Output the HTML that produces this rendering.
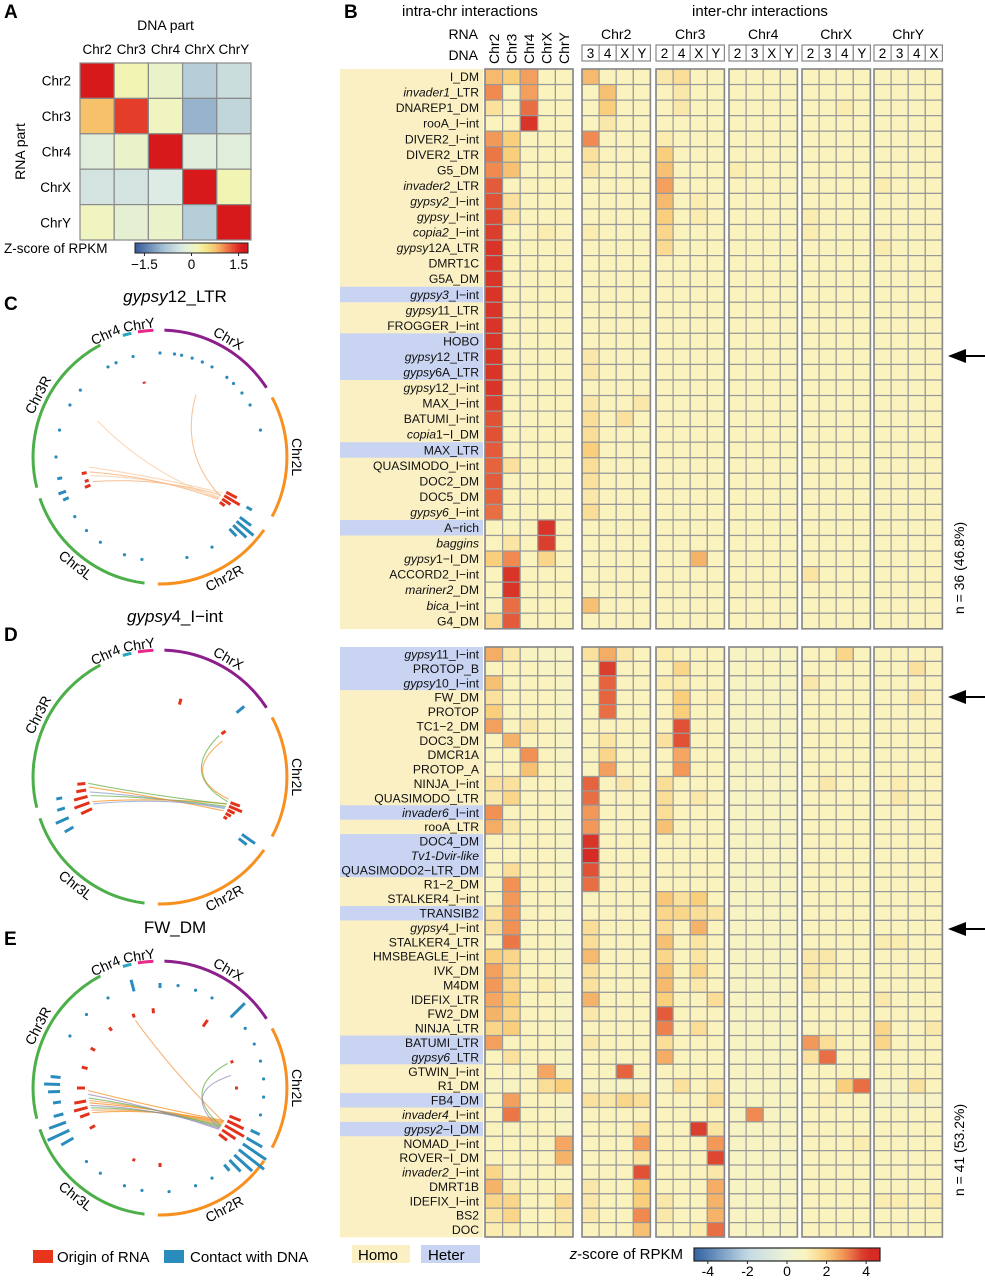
<!DOCTYPE html>
<html><head><meta charset="utf-8">
<style>
html,body{margin:0;padding:0;background:#fff;}
svg{display:block;font-family:"Liberation Sans",Arial,sans-serif;}
</style></head>
<body>
<svg id="fig" width="985" height="1280" viewBox="0 0 985 1280" xmlns="http://www.w3.org/2000/svg"></svg>
<script>
// ---------- Panel A data ----------
const aLabels = ["Chr2","Chr3","Chr4","ChrX","ChrY"];
const aValues = [
 [1.6,0.2,0.0,-0.7,-0.5],
 [0.8,1.4,0.1,-1.0,-0.6],
 [-0.2,0.0,1.6,-0.2,-0.2],
 [-0.4,-0.4,-0.3,1.6,0.2],
 [0.1,-0.1,0.0,-0.7,1.6]
];
const aTicks = [-1.5,0,1.5];
// ---------- Panel B data ----------
const intraCols = ["Chr2","Chr3","Chr4","ChrX","ChrY"];
const interGroups = ["Chr2","Chr3","Chr4","ChrX","ChrY"];
const interCols = [["3","4","X","Y"],["2","4","X","Y"],["2","3","X","Y"],["2","3","4","Y"],["2","3","4","X"]];
const bTicks = [-4,-2,0,2,4];
const topLabels = ["I_DM","*invader1*_LTR","DNAREP1_DM","rooA_I\u2212int","DIVER2_I\u2212int","DIVER2_LTR","G5_DM","*invader2*_LTR","*gypsy2*_I\u2212int","*gypsy*_I\u2212int","*copia2*_I\u2212int","*gypsy*12A_LTR","DMRT1C","G5A_DM","*gypsy3*_I\u2212int","*gypsy*11_LTR","FROGGER_I\u2212int","HOBO","*gypsy*12_LTR","*gypsy*6A_LTR","*gypsy*12_I\u2212int","MAX_I\u2212int","BATUMI_I\u2212int","*copia*1\u2212I_DM","MAX_LTR","QUASIMODO_I\u2212int","DOC2_DM","DOC5_DM","*gypsy6*_I\u2212int","A\u2212rich","*baggins*","*gypsy*1\u2212I_DM","ACCORD2_I\u2212int","*mariner2*_DM","*bica*_I\u2212int","G4_DM"];
const topHeter = [0,0,0,0,0,0,0,0,0,0,0,0,0,0,1,0,0,1,1,1,0,0,0,0,1,0,0,0,0,1,0,0,0,0,0,0];
const topValues = [
[2.3,2,2.7,1,1, 2.3,1,1,1, 1.3,1.6,1,1, 1,1,1,1, 1,1,1,1, 1,1,1,1],
[3,1,2.7,1,1, 1,2.2,1,1, 1,1.3,1,1, 1,1,1,1, 1,1,1,1, 1,1,1,1],
[1.5,1,3.3,1,1, 1,2,1,1, 1,1.3,1,1, 1,1,1,1, 1,1,1.2,1, 1,1,1,1],
[1,1,3.9,1,1, 1,1.3,1,1, 1,1,1,1, 1,1,1,1, 1,1,1,1, 1,1,1,1],
[2.8,2,1,1,1, 3,1,1,1, 1.2,1,1,1, 1,1,1,1, 1,1,1,1, 1,1,1,1],
[3.2,2,1,1,1, 1.5,1,1,1, 2,1,1,1, 1,1,1,1, 1,1,1,1, 1,1,1,1],
[3,2.2,1,1,1, 1.3,1,1,1, 2.2,1,1,1, 1.2,1,1,1, 1,1,1,1, 1,1,1,1],
[3.5,1,1,1,1, 1,1,1,1, 2.7,1,1,1, 1,1,1,1, 1,1,1,1, 1.2,1,1,1],
[3.6,1.5,1,1,1, 1,1,1,1, 2.3,1,1.2,1, 1,1,1,1, 1,1,1,1, 1,1,1,1],
[3.7,1.4,1,1,1, 1,1,1,1, 2,1,1.2,1, 1,1,1,1, 1.2,1,1,1, 1,1,1,1],
[3.8,1,1,1.2,1, 1.2,1,1,1, 1.8,1,1,1, 1,1,1,1, 1.2,1,1,1, 1,1,1,1],
[3.9,1,1,1,1, 1,1,1,1, 1.7,1,1,1, 1,1,1,1, 1,1,1,1, 1.2,1,1,1],
[3.9,1,1,1,1, 1,1,1,1, 1,1,1,1, 1,1,1,1, 1,1,1,1, 1,1,1,1],
[3.9,1,1,1,1, 1,1,1,1, 1,1,1,1, 1,1,1,1, 1,1,1,1, 1,1,1,1],
[3.9,1,1,1,1, 1,1,1,1, 1,1,1,1, 1,1,1,1, 1,1,1,1, 1,1,1,1],
[3.9,1,1,1,1, 1,1,1,1, 1,1,1,1, 1,1,1,1, 1,1,1,1, 1,1,1,1],
[3.9,1,1,1,1, 1,1,1,1, 1,1,1,1, 1,1,1,1, 1,1,1,1, 1,1,1,1],
[3.9,1,1,1,1, 1,1,1,1, 1,1,1,1, 1,1,1,1, 1,1,1,1, 1,1,1,1],
[3.9,1,1,1,1, 1.3,1,1,1, 1,1,1,1, 1,1,1,1, 1,1,1,1, 1,1,1,1],
[3.9,1,1,1,1, 1.3,1,1,1, 1,1,1,1, 1,1,1,1, 1,1,1,1, 1,1,1,1],
[3.9,1,1,1,1, 1,1,1,1, 1,1,1,1, 1,1,1,1, 1,1,1,1, 1,1,1,1],
[3.8,1,1,1,1, 1.3,1,1,1.3, 1,1,1,1, 1,1,1,1, 1,1,1,1, 1,1,1,1],
[3.6,1,1,1,1, 1.6,1,1.5,1, 1,1,1,1, 1,1,1,1, 1,1,1,1, 1,1,1,1],
[3.6,1,1,1,1, 1.6,1,1,1, 1,1,1,1, 1,1,1,1, 1,1,1,1, 1,1,1,1],
[3.5,1,1,1,1, 2,1,1,1, 1,1,1,1, 1,1,1,1, 1,1,1,1, 1,1,1,1],
[3.4,1.5,1,1,1, 1.6,1,1,1, 1,1,1,1, 1,1,1,1, 1,1,1,1, 1,1,1,1],
[3.5,1,1,1,1, 1.5,1,1,1, 1,1,1,1, 1,1,1,1, 1,1,1,1, 1,1,1,1],
[3.4,1,1,1,1, 1.3,1,1,1, 1,1,1,1, 1,1,1,1, 1,1,1,1, 1,1,1,1],
[3.3,1,1,1,1, 1.6,1,1,1, 1,1,1,1, 1,1,1,1, 1,1,1,1, 1,1,1,1],
[1,1,1,3.9,1, 1,1,1,1, 1,1,1,1, 1,1,1,1, 1,1,1,1, 1,1,1,1],
[1,1.4,1,3.8,1, 1,1,1,1, 1,1,1,1, 1,1,1,1, 1,1,1,1, 1,1,1,1],
[2,3,1,1.8,1, 1,1,1,1, 1,1,2.4,1, 1,1,1,1, 1,1,1,1, 1,1,1,1],
[1,3.9,1,1,1, 1,1,1,1, 1,1,1,1, 1,1,1,1, 1.4,1,1,1, 1,1,1,1],
[1,3.9,1,1,1, 1,1,1,1, 1,1,1,1, 1,1,1,1, 1,1,1,1, 1,1,1,1],
[1,3.3,1,1,1, 2.2,1,1,1, 1,1,1,1, 1,1,1,1, 1,1,1,1, 1,1,1,1],
[1.7,3.5,1,1,1, 1,1,1,1, 1,1,1,1, 1,1,1,1, 1,1,1,1, 1,1,1,1]
];
const botLabels = ["*gypsy*11_I\u2212int","PROTOP_B","*gypsy*10_I\u2212int","FW_DM","PROTOP","TC1\u22122_DM","DOC3_DM","DMCR1A","PROTOP_A","NINJA_I\u2212int","QUASIMODO_LTR","*invader6*_I\u2212int","rooA_LTR","DOC4_DM","*Tv1-Dvir-like*","QUASIMODO2\u2212LTR_DM","R1\u22122_DM","STALKER4_I\u2212int","TRANSIB2","*gypsy*4_I\u2212int","STALKER4_LTR","HMSBEAGLE_I\u2212int","IVK_DM","M4DM","IDEFIX_LTR","FW2_DM","NINJA_LTR","BATUMI_LTR","*gypsy6*_LTR","GTWIN_I\u2212int","R1_DM","FB4_DM","*invader4*_I\u2212int","*gypsy2*\u2212I_DM","NOMAD_I\u2212int","ROVER\u2212I_DM","*invader2*_I\u2212int","DMRT1B","IDEFIX_I\u2212int","BS2","DOC"];
const botHeter = [1,1,1,0,0,0,0,0,0,0,0,1,0,1,1,1,0,0,1,0,0,0,0,0,0,0,0,1,1,0,0,1,0,1,0,0,0,0,0,0,0];
const botValues = [
[2.5,1.3,0.8,0.8,0.8, 1.5,2.5,1.3,1, 1.2,1,1,1, 0.8,0.8,0.8,0.8, 1,1,1.8,1, 1,1,1,0.9],
[1,1,1,0.8,0.8, 1,3.8,1,1, 1,1.8,1,1, 0.8,1,1,0.8, 1,1,1,1, 1,1,1.5,1],
[2.2,1,1,1,0.8, 1,3.4,1,1, 1.2,1.2,1,1, 0.8,0.8,0.8,0.8, 1.3,1,1,1, 1,1,1,1],
[1.5,1,1,1,0.8, 1,3.4,1,1, 1,2,1,1.1, 0.8,0.8,0.8,0.8, 1,1,1,1, 1,1,1.3,1],
[2,1,1,1,0.8, 1,3.3,1,1, 1,2,1,1, 0.8,0.8,0.8,0.8, 1,1,1,1, 1,1,1,1],
[2.7,1,1.3,1,0.8, 1,1,1,1, 1,3.6,1,1, 0.8,0.8,0.8,0.8, 1,1,1,1, 1,1,1,1],
[1,2.4,1,1,0.8, 1,1.4,1,1, 1.5,3.6,1,1, 0.8,0.8,0.8,0.8, 1,1,1,1, 1,1,1,1],
[1,1,2.9,1,0.8, 1,1.8,1,1, 1,2.6,1,1, 0.8,0.8,0.8,0.8, 1,1,1,1, 1,1,1,1],
[1,1,2.2,1,0.8, 1,2.7,1,1, 1,2.8,1,1, 0.8,0.8,0.8,0.8, 1,1,1,1, 1,1,1,1],
[1.5,1.5,1,1,0.8, 3.4,1,1.3,1, 1.6,1,1,1, 0.8,0.8,0.8,0.8, 1,1.3,1,1, 1,1.2,1,1],
[1.3,1.8,1,1,0.8, 3.3,1,1,1, 1.6,1,1.3,1, 0.8,0.8,0.8,0.8, 1,1,1,1, 1,1.3,1,1],
[2.9,1,1,1,0.8, 2.8,1,1,1, 1.6,1,1,1, 0.8,0.8,0.8,0.8, 1,1,1,1, 1,1,1,1],
[2.5,1.3,1,1,0.8, 2.8,1,1,1, 2.2,1,1,1, 0.8,0.8,0.8,0.8, 1,1,1,1, 1,1,1,1],
[1,1,1,1,0.8, 3.9,1,1,1, 1,1,1,1, 0.8,0.8,0.8,0.8, 1,1,1,1, 1,1,1,1],
[1,1,1,1,0.8, 4,1,1,1, 1,1,1,1, 0.8,0.8,0.8,0.8, 1,1,1,1, 1,1,1,1],
[1,1.6,1,1,0.8, 3.6,1,1,1, 1,1,1,1, 0.8,0.8,0.8,0.8, 1,1,1,1, 1,1,1,1],
[1,2.9,1,1,0.8, 3.3,1,1,1, 1,1,1,1, 0.8,0.8,0.8,0.8, 1,1,1,1, 1,1,1,1],
[1,2.8,1,1,0.8, 1,1,1,1, 2.1,1.5,2,1, 0.8,0.8,0.8,0.8, 1,1,1,1, 1,1,1,1],
[1.4,2.8,1,1,0.8, 1,1,1,1, 1.8,1.8,1.6,1.4, 0.8,0.8,0.8,0.8, 1,1,1,1, 1,1,1,1],
[1.5,2.9,1,1,0.8, 1.6,1,1,1, 1.6,1,2.4,1, 0.8,0.8,0.8,0.8, 1,1,1,1, 1,1,1,1],
[1,3.2,1,1,0.8, 1.6,1,1,1, 2.2,1,1.4,1, 0.8,0.8,0.8,0.8, 1,1,1,1, 1.2,1.2,1,1],
[2,1.8,1,1,0.8, 2.3,1,1,1, 1.8,1,1.4,1, 0.8,0.8,0.8,0.8, 1.3,1.3,1,1, 1,1,1,1],
[2.7,1.8,1,1,0.8, 1.5,1,1,1, 2.2,1,1.8,1, 0.8,0.8,0.8,0.8, 1.3,1.2,1,1, 1,1,1,1],
[2.8,1.8,1,1.2,0.8, 1.5,1,1,1, 2.3,1,1.3,1, 0.8,0.8,0.8,0.8, 1.3,1,1,1, 1,1,1,1],
[2.6,2,1,1,0.8, 2.4,1,1,1, 2,1,1,1.6, 0.8,0.8,0.8,0.8, 1,1,1,1, 1.3,1,1,1],
[2.4,1.8,1,1,0.8, 1.3,1,1,1, 3.5,1,1,1, 0.8,0.8,0.8,0.8, 1,1,1,1, 1,1,1,1],
[1.8,2,1,1,0.8, 1,1,1,1, 3.1,1,1.6,1, 0.8,0.8,0.8,0.8, 1,1,1,1, 1.8,1,1,1.3],
[2.7,1,1,1,0.8, 1.3,1,1,1, 1.6,1,1,1, 0.8,0.8,0.8,0.8, 2.8,1.6,1,1, 1.8,1,1,1],
[1,1.5,1,1,0.8, 1,1,1,1, 2.5,1,1,1, 0.8,0.8,0.8,0.8, 1.5,3.3,1,1, 1,1,1,1],
[1,1,1,2.6,0.8, 1,1,3.4,1, 1,1,1,1, 0.8,0.8,0.8,0.8, 1,1,1,1, 1,1,1,1],
[0.8,0.8,1,1.6,2, 0.8,0.8,0.8,0.8, 0.8,1.5,1,1.3, 0.8,0.8,0.8,0.8, 1,1,2,3.3, 0.8,0.8,1.5,1],
[1,2.7,1,1,0.8, 1.5,1.3,1.8,1.6, 1,1,1,1.6, 0.8,0.8,0.8,0.8, 1,1.1,1,1, 0.6,0.6,0.6,0.6],
[1,3.2,1,1,0.8, 1,1,1,1, 1,1,1,1, 0.8,3.0,0.8,0.8, 1,1,1,1, 1,1,1,1],
[1,1,1,1,0.8, 1,1,1,1.6, 1,1,3.8,1.4, 0.8,0.8,0.8,0.8, 1,1,1,1, 1,1,1,1],
[1,1,1,1,2.6, 1,1,1,2.8, 1,1,1,2.8, 0.8,0.8,0.8,0.8, 1,1,1,1.2, 1,1,1,1],
[1,1,1,1,2.4, 1,1,1,1.4, 1,1,1,3.7, 0.8,0.8,0.8,0.8, 1,1,1,1, 1,1,1,1],
[1.8,1,1,1,1, 1,1,1,3.6, 1,1,1,1.3, 0.8,0.8,0.8,0.8, 1,1,1,1, 1,1,1,1],
[2.4,1.2,1,1,1, 1.3,1,1,2, 1,1,1,2.5, 0.8,0.8,0.8,0.8, 1,1,1,1, 1,1,1,1],
[1.8,1.8,1,1,1.7, 1.3,1,1,2, 1.3,1,1,2.4, 0.8,0.8,0.8,0.8, 1,1,1,1, 1.2,1.2,1,1.2],
[1.4,1.8,1,1,1.3, 1.3,1,1,3, 1.3,1,1,2.4, 0.8,0.8,0.8,0.8, 1,1,1,1, 1,1,1,1],
[1.2,1.2,1,1,1.2, 1,1,1,2.2, 1,1,1.2,3.3, 0.8,0.8,0.8,0.8, 1,1,1,1, 1,1,1,1]
];
// ---------- Circos data (angles in degrees clockwise from top) ----------
const chromNames = ["ChrX","Chr2L","Chr2R","Chr3L","Chr3R","Chr4","ChrY"];
const chromStart = [2,62,125,187,256,343,350];
const chromEnd = [57,118,181,251,332,347,357];
const chromColor = ["#8b1f8b","#f7901e","#f7901e","#4daf4a","#4daf4a","#2aa3c0","#e7298a"];
const circTitles = ["gypsy|12_LTR","gypsy|4_I\u2212int","|FW_DM"];
const cRed = [[-12,2],[118,12],[121,18],[124,10],[127,6],[248,6],[252,4],[258,5]];
const cBlue = [[127,14],[130,22],[133,18],[136,10],[120,6],[246,6],[250,8],[258,5]];
const cDots = [-25,-15,0,8,12,18,24,30,40,45,52,60,75,150,165,190,200,215,225,235,270,285,300,310,330];
const cChords = [[122,250],[124,255],[126,258],[120,262],[123,30],[125,300]];
const dRed = [[15,6],[55,5],[110,10],[113,14],[116,8],[119,6],[122,4],[245,12],[250,16],[255,14],[260,10],[265,8]];
const dBlue = [[50,10],[125,16],[128,10],[240,10],[246,14],[252,8],[258,6]];
const dDots = [];
const dChords = [[112,250],[114,255],[116,258],[118,262],[112,265],[115,248],[108,60],[110,55]];
const eRed = [[-20,4],[-5,5],[35,8],[70,3],[90,3],[112,12],[116,18],[120,22],[124,16],[128,10],[180,4],[200,3],[240,6],[250,10],[255,14],[260,12],[270,8],[285,6],[300,5],[320,4]];
const eBlue = [[-15,12],[0,5],[45,20],[115,10],[120,18],[124,28],[128,32],[132,24],[136,16],[140,8],[240,14],[245,24],[250,18],[255,10],[262,8],[268,12],[272,16],[276,10]];
const eDots = [-30,10,20,30,55,65,75,85,95,105,150,160,175,190,200,215,225,300,315];
const eChords = [[118,250],[120,252],[122,254],[124,256],[119,258],[121,260],[123,262],[125,265],[117,268],[118,-20],[122,70],[124,80]];

// ---------- helpers ----------
const NS="http://www.w3.org/2000/svg";
const svg=document.getElementById('fig');
function el(tag,attrs,parent){const e=document.createElementNS(NS,tag);for(const k in attrs)e.setAttribute(k,attrs[k]);(parent||svg).appendChild(e);return e;}
function txt(str,attrs,parent){const t=el('text',attrs,parent);t.textContent=str;return t;}
function hex(h){return [parseInt(h.slice(1,3),16),parseInt(h.slice(3,5),16),parseInt(h.slice(5,7),16)];}
function interp(stops,v){if(v<=stops[0][0])return stops[0][1];for(let i=1;i<stops.length;i++){if(v<=stops[i][0]){const t=(v-stops[i-1][0])/(stops[i][0]-stops[i-1][0]);const a=hex(stops[i-1][1]),b=hex(stops[i][1]);return 'rgb('+a.map((x,j)=>Math.round(x+(b[j]-x)*t)).join(',')+')';}}return stops[stops.length-1][1];}
const bStops=[[-4.6,'#3464a2'],[-2,'#c3d9e6'],[0,'#eef3d6'],[1,'#fbf3bd'],[2,'#f9cf7c'],[3,'#f08a50'],[4,'#d52b24']];
const aStops=[[-1.8,'#35589a'],[-0.9,'#a3c0d2'],[-0.3,'#dcebe3'],[0.15,'#f1f5bd'],[0.3,'#f5f3a0'],[0.8,'#f6c168'],[1.3,'#eb5033'],[1.6,'#d7191c']];
function colB(v){return interp(bStops,v);}
function colA(v){return interp(aStops,v);}
function richLabel(str,x,y,parent,size){
  const t=el('text',{x:x,y:y,'text-anchor':'end','font-size':size,fill:'#111'},parent);
  const parts=str.split('*');
  parts.forEach((p,i)=>{if(!p)return;const s=el('tspan',{},t);if(i%2===1)s.setAttribute('font-style','italic');s.textContent=p;});
  return t;
}

// ---------- Panel letters ----------
[["A",4,18],["B",344,18],["C",4,310],["D",4,641],["E",4,945]].forEach(([l,x,y])=>{
  const t=txt(l,{x:x,y:y,'font-size':19,'font-weight':'bold'});
  
  
});

// ---------- Panel A ----------
const gA=el('g',{});


const ax0=80,ay0=63,acw=34.2,ach=35.4;
txt('DNA part',{x:ax0+2.5*acw,y:30,'text-anchor':'middle','font-size':14},gA);
aLabels.forEach((l,i)=>{txt(l,{x:ax0+(i+0.5)*acw,y:54,'text-anchor':'middle','font-size':13.5},gA);
 txt(l,{x:ax0-9,y:ay0+(i+0.5)*ach+5,'text-anchor':'end','font-size':13.5},gA);});
txt('RNA part',{x:0,y:0,'text-anchor':'middle','font-size':14,transform:'translate(25,'+(ay0+2.5*ach)+') rotate(-90)'},gA);
aValues.forEach((row,r)=>row.forEach((v,c)=>{
  const rc=el('rect',{x:ax0+c*acw,y:ay0+r*ach,width:acw,height:ach,fill:colA(v),stroke:'#8a8a8a','stroke-width':1.2},gA);
  
  
}));
txt('Z-score of RPKM',{x:4,y:253,'font-size':13.5},gA);
const aCb={x:135,y:243,w:113,h:10};
const defs=el('defs',{});
function gradient(id,stops,lo,hi){const g=el('linearGradient',{id:id,x1:0,x2:1,y1:0,y2:0},defs);
 for(let i=0;i<=20;i++){const v=lo+(hi-lo)*i/20;el('stop',{offset:(i/20),'stop-color':interp(stops,v)},g);} }
gradient('gA',aStops,-1.8,1.8);
gradient('gB',bStops,-4.7,4.7);
const cba=el('rect',{x:aCb.x,y:aCb.y,width:aCb.w,height:aCb.h,fill:'url(#gA)',stroke:'#222','stroke-width':1},gA);


aTicks.forEach(t=>{const x=aCb.x+(t+1.8)/3.6*aCb.w;el('line',{x1:x,x2:x,y1:aCb.y+aCb.h,y2:aCb.y+aCb.h+3,stroke:'#222'},gA);
 txt(t===0?'0':(t<0?'\u22121.5':'1.5'),{x:x,y:aCb.y+aCb.h+16,'text-anchor':'middle','font-size':13.5},gA);});

// ---------- Panel B ----------
const gB=el('g',{});


const intraX0=485,intraW=17.6;
const grpX0=[582,656,729,802,874],grpW=17.1;
function colX(c){if(c<5)return intraX0+c*intraW;const g=Math.floor((c-5)/4),k=(c-5)%4;return grpX0[g]+k*grpW;}
function colWd(c){return c<5?intraW:grpW;}
txt('intra-chr interactions',{x:470,y:16,'text-anchor':'middle','font-size':15},gB);
txt('inter-chr interactions',{x:760,y:16,'text-anchor':'middle','font-size':15},gB);
txt('RNA',{x:478,y:39,'text-anchor':'end','font-size':14},gB);
txt('DNA',{x:478,y:60,'text-anchor':'end','font-size':14},gB);
intraCols.forEach((l,i)=>{txt(l,{x:0,y:0,'font-size':14,transform:'translate('+(intraX0+(i+0.5)*intraW+5)+',64) rotate(-90)'},gB);});
interGroups.forEach((g,gi)=>{
  txt(g,{x:grpX0[gi]+2*grpW,y:39,'text-anchor':'middle','font-size':14},gB);
  interCols[gi].forEach((l,k)=>{const x=grpX0[gi]+k*grpW;
    el('rect',{x:x,y:45,width:grpW,height:16,fill:'#fff',stroke:'#888','stroke-width':1.2},gB);
    txt(l,{x:x+grpW/2,y:58,'text-anchor':'middle','font-size':13.5},gB);});
});
function drawBlock(labels,heter,values,y0,rh,name){
  const g=el('g',{},gB);
  
  
  labels.forEach((l,r)=>{
    const y=y0+r*rh;
    const bg=el('rect',{x:340,y:y,width:143,height:rh+0.3,fill:heter[r]?'#c9d4f2':'#fbf0c4'},g);
    
    
    const t=richLabel(l,479,y+rh/2+4.3,g,12.2);
    
    
    values[r].forEach((v,c)=>{
      const rc=el('rect',{x:colX(c),y:y,width:colWd(c),height:rh,fill:colB(v),stroke:'#999','stroke-width':1.2},g);
      
      
    });
  });
  const h=labels.length*rh;
  el('rect',{x:intraX0,y:y0,width:5*intraW,height:h,fill:'none',stroke:'#888','stroke-width':1.6},g);
  grpX0.forEach(x=>el('rect',{x:x,y:y0,width:4*grpW,height:h,fill:'none',stroke:'#888','stroke-width':1.6},g));
}
drawBlock(topLabels,topHeter,topValues,69,15.55,'homo-enriched-block');
drawBlock(botLabels,botHeter,botValues,647,14.39,'heter-enriched-block');
const n1=txt('n = 36 (46.8%)',{x:0,y:0,'text-anchor':'middle','font-size':14,transform:'translate(964,568) rotate(-90)'},gB);

const n2=txt('n = 41 (53.2%)',{x:0,y:0,'text-anchor':'middle','font-size':14,transform:'translate(964,1150) rotate(-90)'},gB);

[356,697,929].forEach((y,i)=>{
  const a=el('g',{},gB);
  
  
  el('line',{x1:985,x2:962,y1:y,y2:y,stroke:'#000','stroke-width':2},a);
  el('polygon',{points:'948,'+y+' 966,'+(y-7)+' 966,'+(y+7),fill:'#000'},a);
});
const lh=el('g',{},gB);


el('rect',{x:352,y:1245,width:58,height:18,fill:'#fbf0c4'},lh);
txt('Homo',{x:358,y:1260,'font-size':15},lh);
el('rect',{x:421,y:1245,width:59,height:18,fill:'#c9d4f2'},lh);
txt('Heter',{x:428,y:1260,'font-size':15},lh);
const zl=el('text',{x:683,y:1259,'text-anchor':'end','font-size':15},gB);
const z1=el('tspan',{'font-style':'italic'},zl);z1.textContent='z';
const z2=el('tspan',{},zl);z2.textContent='-score of RPKM';
const bCb={x:694,y:1248,w:186,h:13};
const cbb=el('rect',{x:bCb.x,y:bCb.y,width:bCb.w,height:bCb.h,fill:'url(#gB)',stroke:'#222','stroke-width':1.2},gB);


bTicks.forEach(t=>{const x=bCb.x+(t+4.7)/9.4*bCb.w;el('line',{x1:x,x2:x,y1:bCb.y+bCb.h,y2:bCb.y+bCb.h+3,stroke:'#222'},gB);
 txt(t<0?'-'+(-t):String(t),{x:x,y:1276,'text-anchor':'middle','font-size':14},gB);});

// ---------- Circos panels ----------
function pt(cx,cy,r,a){const t=a*Math.PI/180;return [cx+r*Math.sin(t),cy-r*Math.cos(t)];}
function arcPath(cx,cy,r,a1,a2){const p1=pt(cx,cy,r,a1),p2=pt(cx,cy,r,a2);return 'M'+p1[0].toFixed(1)+','+p1[1].toFixed(1)+' A'+r+','+r+' 0 '+((a2-a1)>180?1:0)+' 1 '+p2[0].toFixed(1)+','+p2[1].toFixed(1);}
function circos(cx,cy,title,red,blue,dots,chords,name,chordColors){
  const g=el('g',{});
  
  
  const [ti,rest]=title.split('|');
  const tt=el('text',{x:cx+15,y:cy-155,'text-anchor':'middle','font-size':17},g);
  if(ti){const s=el('tspan',{'font-style':'italic'},tt);s.textContent=ti;}
  const s2=el('tspan',{},tt);s2.textContent=rest;
  const R=127;
  chromNames.forEach((n,i)=>{
    const p=el('path',{d:arcPath(cx,cy,R,chromStart[i],chromEnd[i]),fill:'none',stroke:chromColor[i],'stroke-width':3},g);
    
    
  });
  const labs=[["ChrX",30,137],["Chr2L",90,137],["Chr2R",152,137],["Chr3L",218,137],["Chr3R",297,137],["Chr4",-24,134],["ChrY",-9,134]];
  labs.forEach(([n,a,r])=>{const p=pt(cx,cy,r,a);const rot=(a>90&&a<270)?a-180:a;
    txt(n,{x:0,y:0,'text-anchor':'middle','font-size':14,transform:'translate('+p[0].toFixed(1)+','+p[1].toFixed(1)+') rotate('+rot+')',dy:5},g);});
  chords.forEach(([a1,a2],i)=>{const p1=pt(cx,cy,72,a1),p2=pt(cx,cy,72,a2),c=pt(cx,cy,20,(a1+a2)/2);
    const pa=el('path',{d:'M'+p1.join(',')+' Q'+c.join(',')+' '+p2.join(','),fill:'none',stroke:chordColors[i%chordColors.length],'stroke-width':1.1,opacity:0.75},g);
    
    });
  red.forEach(([a,l])=>{const p1=pt(cx,cy,75,a),p2=pt(cx,cy,75+l,a);
    const ln=el('line',{x1:p1[0],y1:p1[1],x2:p2[0],y2:p2[1],stroke:'#e2321c','stroke-width':3},g);
    });
  blue.forEach(([a,l])=>{const p1=pt(cx,cy,100,a),p2=pt(cx,cy,100+l,a);
    const ln=el('line',{x1:p1[0],y1:p1[1],x2:p2[0],y2:p2[1],stroke:'#2a8cbc','stroke-width':3},g);
    });
  dots.forEach(a=>{const p=pt(cx,cy,104,a);const d=el('circle',{cx:p[0],cy:p[1],r:1.6,fill:'#2a8cbc'},g);
    });
}
circos(160,457,circTitles[0],cRed,cBlue,cDots,cChords,'circos-gypsy12-ltr',['#f6b07a','#f9c9a0']);
circos(160,777,circTitles[1],dRed,dBlue,dDots,dChords,'circos-gypsy4-i-int',['#f7901e','#6ab04c','#8aa0c8']);
circos(160,1088,circTitles[2],eRed,eBlue,eDots,eChords,'circos-fw-dm',['#f7901e','#f29a4a','#6ab04c','#9b8ab8']);
const lg=el('g',{});


el('rect',{x:33,y:1250,width:20,height:13,fill:'#e8351c'},lg);
txt('Origin of RNA',{x:57,y:1262,'font-size':15},lg);
el('rect',{x:164,y:1250,width:20,height:13,fill:'#2a8cbc'},lg);
txt('Contact with DNA',{x:190,y:1262,'font-size':15},lg);
</script>
</body></html>
